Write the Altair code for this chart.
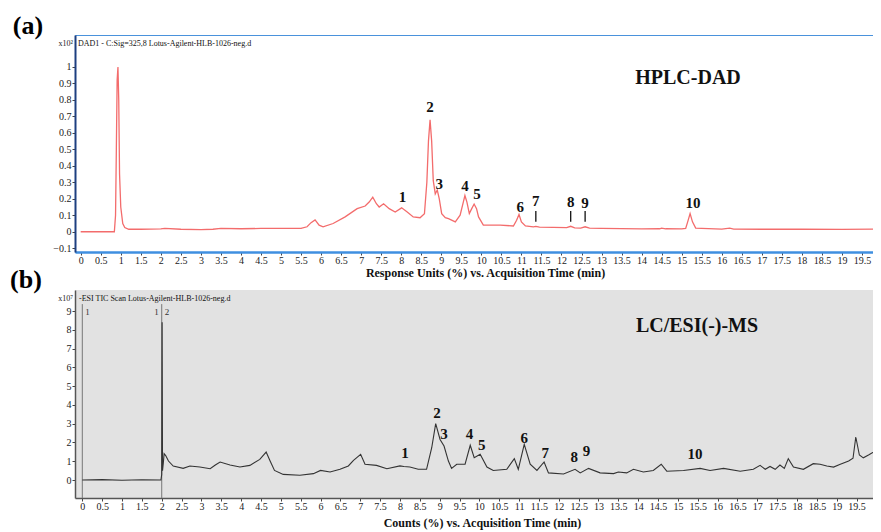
import altair as alt
import pandas as pd

SERIF = "Liberation Serif"

# ---------------- data: (a) HPLC-DAD trace ----------------
dad_time = [0, 0.5, 0.84, 0.87, 0.89, 0.91, 0.93, 0.95, 0.97, 1.0, 1.05, 1.1, 1.2, 1.5, 2.0, 2.1,
            2.5, 3.0, 3.3, 3.5, 4.0, 4.5, 5.0, 5.5, 5.65, 5.75, 5.85, 5.95, 6.05, 6.3, 6.6, 6.9,
            7.1, 7.2, 7.29, 7.38, 7.45, 7.56, 7.7, 7.85, 8.01, 8.15, 8.3, 8.47, 8.58, 8.64, 8.68,
            8.72, 8.76, 8.80, 8.85, 8.90, 8.95, 9.01, 9.1, 9.18, 9.35, 9.47, 9.55, 9.59, 9.64,
            9.70, 9.76, 9.82, 9.88, 9.93, 10.05, 10.47, 10.8, 10.88, 10.94, 11.0, 11.1, 11.3,
            11.36, 11.45, 12.13, 12.23, 12.33, 12.48, 12.59, 12.7, 13.0, 14.0, 14.45, 14.5, 14.6,
            15.0, 15.1, 15.15, 15.21, 15.27, 15.35, 15.5, 16.0, 16.2, 16.3, 17.0, 18.0, 19.0, 20.0]
dad_resp = [0.0, 0.0, 0.0, 0.1, 0.5, 0.92, 1.0, 0.8, 0.35, 0.15, 0.05, 0.025, 0.015, 0.015, 0.017, 0.02,
            0.015, 0.013, 0.015, 0.02, 0.018, 0.02, 0.02, 0.02, 0.03, 0.055, 0.072, 0.04, 0.03, 0.05, 0.09, 0.14,
            0.156, 0.18, 0.21, 0.17, 0.15, 0.17, 0.14, 0.12, 0.145, 0.12, 0.09, 0.085, 0.11, 0.3, 0.55,
            0.68, 0.55, 0.31, 0.23, 0.253, 0.2, 0.11, 0.085, 0.08, 0.06, 0.1, 0.18, 0.22, 0.18,
            0.11, 0.14, 0.168, 0.14, 0.09, 0.04, 0.04, 0.035, 0.07, 0.105, 0.06, 0.035, 0.03,
            0.032, 0.028, 0.025, 0.033, 0.024, 0.022, 0.03, 0.022, 0.02, 0.017, 0.018, 0.022, 0.018,
            0.017, 0.02, 0.06, 0.11, 0.06, 0.022, 0.02, 0.016, 0.022, 0.016, 0.015, 0.015, 0.014, 0.016]

# ---------------- data: (b) LC/ESI(-)-MS TIC trace ----------------
ms_time = [0, 0.5, 1.0, 1.5, 1.98, 2.0, 2.01, 2.02, 2.04, 2.06, 2.1, 2.17, 2.29, 2.54, 2.71, 2.96,
           3.22, 3.35, 3.47, 3.72, 3.97, 4.22, 4.47, 4.63, 4.73, 4.84, 5.06, 5.48, 5.82, 6.0, 6.24,
           6.49, 6.7, 6.83, 7.01, 7.12, 7.41, 7.67, 8.0, 8.1, 8.25, 8.46, 8.67, 8.80, 8.90, 9.01,
           9.11, 9.22, 9.30, 9.43, 9.64, 9.77, 9.87, 10.02, 10.19, 10.35, 10.69, 10.88, 10.98,
           11.13, 11.28, 11.45, 11.63, 11.74, 12.12, 12.41, 12.54, 12.75, 13.04, 13.38, 13.5,
           13.71, 13.88, 14.13, 14.38, 14.58, 14.72, 15.14, 15.56, 15.81, 16.15, 16.57, 16.9,
           17.07, 17.2, 17.32, 17.45, 17.57, 17.68, 17.78, 17.91, 18.16, 18.41, 18.58, 18.75,
           18.92, 19.09, 19.30, 19.41, 19.48, 19.57, 19.67, 19.8, 19.97, 20.14]
ms_counts = [0.0, 0.02, -0.01, 0.01, 0.0, 0.3, 8.4, 0.5, 0.9, 1.4, 1.3, 1.01, 0.745, 0.62, 0.745, 0.69,
             0.6, 0.8, 0.96, 0.8, 0.69, 0.78, 1.1, 1.49, 1.01, 0.51, 0.3, 0.25, 0.34, 0.51, 0.43,
             0.57, 0.75, 1.05, 1.37, 0.84, 0.78, 0.6, 0.75, 0.72, 0.69, 0.57, 0.57, 1.72, 3.0, 2.16,
             1.81, 1.01, 0.62, 0.84, 0.84, 1.85, 1.19, 1.37, 0.69, 0.51, 0.57, 1.14, 0.57,
             1.9, 0.84, 0.51, 0.96, 0.38, 0.32, 0.57, 0.38, 0.62, 0.38, 0.34, 0.43,
             0.38, 0.57, 0.43, 0.51, 0.84, 0.47, 0.51, 0.62, 0.51, 0.62, 0.47, 0.57,
             0.78, 0.57, 0.72, 0.57, 0.8, 0.62, 1.14, 0.69, 0.57, 0.87, 0.84, 0.75,
             0.69, 0.84, 1.01, 1.16, 2.29, 1.33, 1.18, 1.33, 1.54, 1.28]

# ---------------- peak labels ----------------
peak_ids = ["1", "2", "3", "4", "5", "6", "7", "8", "9", "10"]
dad_label_time = [8.03, 8.72, 8.95, 9.59, 9.89, 10.97, 11.36, 12.23, 12.59, 15.28]
dad_label_resp = [0.213, 0.76, 0.29, 0.277, 0.227, 0.152, 0.188, 0.182, 0.176, 0.176]
dad_marker_time = [11.36, 12.23, 12.59]
dad_marker_low = [0.06, 0.06, 0.06]
dad_marker_high = [0.126, 0.126, 0.126]
ms_label_time = [8.13, 8.93, 9.11, 9.75, 10.06, 11.13, 11.66, 12.39, 12.70, 15.43]
ms_label_counts = [1.42, 3.55, 2.43, 2.43, 1.86, 2.25, 1.42, 1.22, 1.54, 1.40]
ms_event_time = [0, 2]
ms_event_top = [9.37, 9.37]
ms_event_bottom = [-0.96, -0.96]

# ---------------- axis ticks ----------------
x_ticks = [0, 0.5, 1, 1.5, 2, 2.5, 3, 3.5, 4, 4.5, 5, 5.5, 6, 6.5, 7, 7.5, 8, 8.5, 9, 9.5, 10,
           10.5, 11, 11.5, 12, 12.5, 13, 13.5, 14, 14.5, 15, 15.5, 16, 16.5, 17, 17.5, 18, 18.5,
           19, 19.5]
dad_y_ticks = [-0.1, 0, 0.1, 0.2, 0.3, 0.4, 0.5, 0.6, 0.7, 0.8, 0.9, 1]
ms_y_ticks = [0, 1, 2, 3, 4, 5, 6, 7, 8, 9]

W = 807
HA = 217
HB = 208


def x_axis(title, dcolor, dwidth, tpad, tx):
    return alt.Axis(values=x_ticks, format="~g", title=title, grid=False,
                    labelFont=SERIF, labelFontSize=10, labelColor="#222", labelPadding=0,
                    labelFlush=False, labelOverlap=False,
                    tickSize=3, tickColor="#444", domainColor=dcolor, domainWidth=dwidth,
                    titleFont=SERIF, titleFontSize=12, titleFontWeight="bold",
                    titleColor="#111", titlePadding=tpad, titleX=tx)


def y_axis(vals, dcolor, dwidth):
    return alt.Axis(values=vals, format="~g", title=None, grid=False,
                    labelFont=SERIF, labelFontSize=10, labelColor="#222", labelPadding=1,
                    labelOverlap=False, labelFlush=False,
                    tickSize=3, tickColor="#444", domainColor=dcolor, domainWidth=dwidth)


# ================= panel (a) =================
dad_df = pd.DataFrame({"t": dad_time, "v": dad_resp})
dad_lab = pd.DataFrame({"t": dad_label_time, "v": dad_label_resp, "lab": peak_ids})
dad_mk = pd.DataFrame({"t": dad_marker_time, "v": dad_marker_low, "v2": dad_marker_high})

xa = alt.X("t:Q", scale=alt.Scale(domain=[-0.142, 20.0], nice=False, zero=False),
           axis=x_axis("Response Units (%) vs. Acquisition Time (min)", "#3f8fe0", 2.5, 2, 410))
ya = alt.Y("v:Q", scale=alt.Scale(domain=[-0.123, 1.194], nice=False, zero=False),
           axis=y_axis(dad_y_ticks, "#1d3f80", 2))

line_a = alt.Chart(dad_df).mark_line(color="#f36c6c", strokeWidth=1.3, clip=True).encode(x=xa, y=ya)
lab_a = alt.Chart(dad_lab).mark_text(font=SERIF, fontSize=15, fontWeight="bold", color="#111",
                                     baseline="middle").encode(x=xa, y=ya, text="lab:N")
mk_a = alt.Chart(dad_mk).mark_rule(color="#111", strokeWidth=1.3).encode(x=xa, y=ya, y2="v2:Q")

ann_a = alt.Chart(pd.DataFrame({"s": ["(a)"]})).mark_text(
    font=SERIF, fontSize=26, fontWeight="bold", color="#000", align="center", baseline="middle"
).encode(x=alt.value(-47), y=alt.value(-9), text="s:N")
exp_a = alt.Chart(pd.DataFrame({"s": ["x10²"]})).mark_text(
    font=SERIF, fontSize=8, color="#222", align="right", baseline="middle"
).encode(x=alt.value(-2), y=alt.value(9), text="s:N")
hdr_a = alt.Chart(pd.DataFrame({"s": ["DAD1 - C:Sig=325,8 Lotus-Agilent-HLB-1026-neg.d"]})).mark_text(
    font=SERIF, fontSize=8, color="#111", align="left", baseline="middle"
).encode(x=alt.value(3), y=alt.value(9), text="s:N")
big_a = alt.Chart(pd.DataFrame({"s": ["HPLC-DAD"]})).mark_text(
    font=SERIF, fontSize=20, fontWeight="bold", color="#111", align="center", baseline="middle"
).encode(x=alt.value(613), y=alt.value(43), text="s:N")

panel_a = alt.layer(line_a, mk_a, lab_a, ann_a, exp_a, hdr_a, big_a).properties(
    width=W, height=HA,
    view=alt.ViewBackground(fill="white", stroke="#4a92dc", strokeWidth=1),
)

# ================= panel (b) =================
ms_df = pd.DataFrame({"t": ms_time, "v": ms_counts})
ms_lab = pd.DataFrame({"t": ms_label_time, "v": ms_label_counts, "lab": peak_ids})
ms_ev = pd.DataFrame({"t": ms_event_time, "v": ms_event_top, "v2": ms_event_bottom})
ms_ev_lab = pd.DataFrame({"t": [0, 2, 2], "v": [8.95, 8.95, 8.95], "lab": ["1", "1", "2"],
                          "side": ["r", "l", "r"]})

xb = alt.X("t:Q", scale=alt.Scale(domain=[-0.184, 20.14], nice=False, zero=False),
           axis=x_axis("Counts (%) vs. Acquisition Time (min)", "#555", 1.5, 6, 407))
yb = alt.Y("v:Q", scale=alt.Scale(domain=[-0.958, 10.12], nice=False, zero=False),
           axis=y_axis(ms_y_ticks, "#555", 1.5))

ev_b = alt.Chart(ms_ev).mark_rule(color="#777", strokeWidth=1).encode(x=xb, y=yb, y2="v2:Q")
line_b = alt.Chart(ms_df).mark_line(color="#333", strokeWidth=1.1, clip=True).encode(x=xb, y=yb)
lab_b = alt.Chart(ms_lab).mark_text(font=SERIF, fontSize=15, fontWeight="bold", color="#111",
                                    baseline="middle").encode(x=xb, y=yb, text="lab:N")
evr_b = alt.Chart(ms_ev_lab[ms_ev_lab.side == "r"]).mark_text(
    font=SERIF, fontSize=9, color="#333", align="left", dx=3, baseline="middle"
).encode(x=xb, y=yb, text="lab:N")
evl_b = alt.Chart(ms_ev_lab[ms_ev_lab.side == "l"]).mark_text(
    font=SERIF, fontSize=9, color="#333", align="right", dx=-3, baseline="middle"
).encode(x=xb, y=yb, text="lab:N")

ann_b = alt.Chart(pd.DataFrame({"s": ["(b)"]})).mark_text(
    font=SERIF, fontSize=26, fontWeight="bold", color="#000", align="center", baseline="middle"
).encode(x=alt.value(-49), y=alt.value(-10), text="s:N")
exp_b = alt.Chart(pd.DataFrame({"s": ["x10⁷"]})).mark_text(
    font=SERIF, fontSize=8, color="#222", align="right", baseline="middle"
).encode(x=alt.value(-2), y=alt.value(9), text="s:N")
hdr_b = alt.Chart(pd.DataFrame({"s": ["-ESI TIC Scan Lotus-Agilent-HLB-1026-neg.d"]})).mark_text(
    font=SERIF, fontSize=8, color="#111", align="left", baseline="middle"
).encode(x=alt.value(4), y=alt.value(9), text="s:N")
big_b = alt.Chart(pd.DataFrame({"s": ["LC/ESI(-)-MS"]})).mark_text(
    font=SERIF, fontSize=20, fontWeight="bold", color="#111", align="center", baseline="middle"
).encode(x=alt.value(622), y=alt.value(36), text="s:N")

panel_b = alt.layer(ev_b, line_b, lab_b, evr_b, evl_b, ann_b, exp_b, hdr_b, big_b).properties(
    width=W, height=HB,
    view=alt.ViewBackground(fill="#e2e2e2", stroke="#e2e2e2", strokeWidth=0),
)

chart = alt.vconcat(panel_a, panel_b, spacing=-12).properties(
    autosize=alt.AutoSizeParams(type="none"),
    padding={"left": 67, "top": 27, "right": -9, "bottom": 497},
    background="white",
).configure_view(strokeWidth=0)

chart.save("out.html", embed_options={"renderer": "svg", "actions": False})
